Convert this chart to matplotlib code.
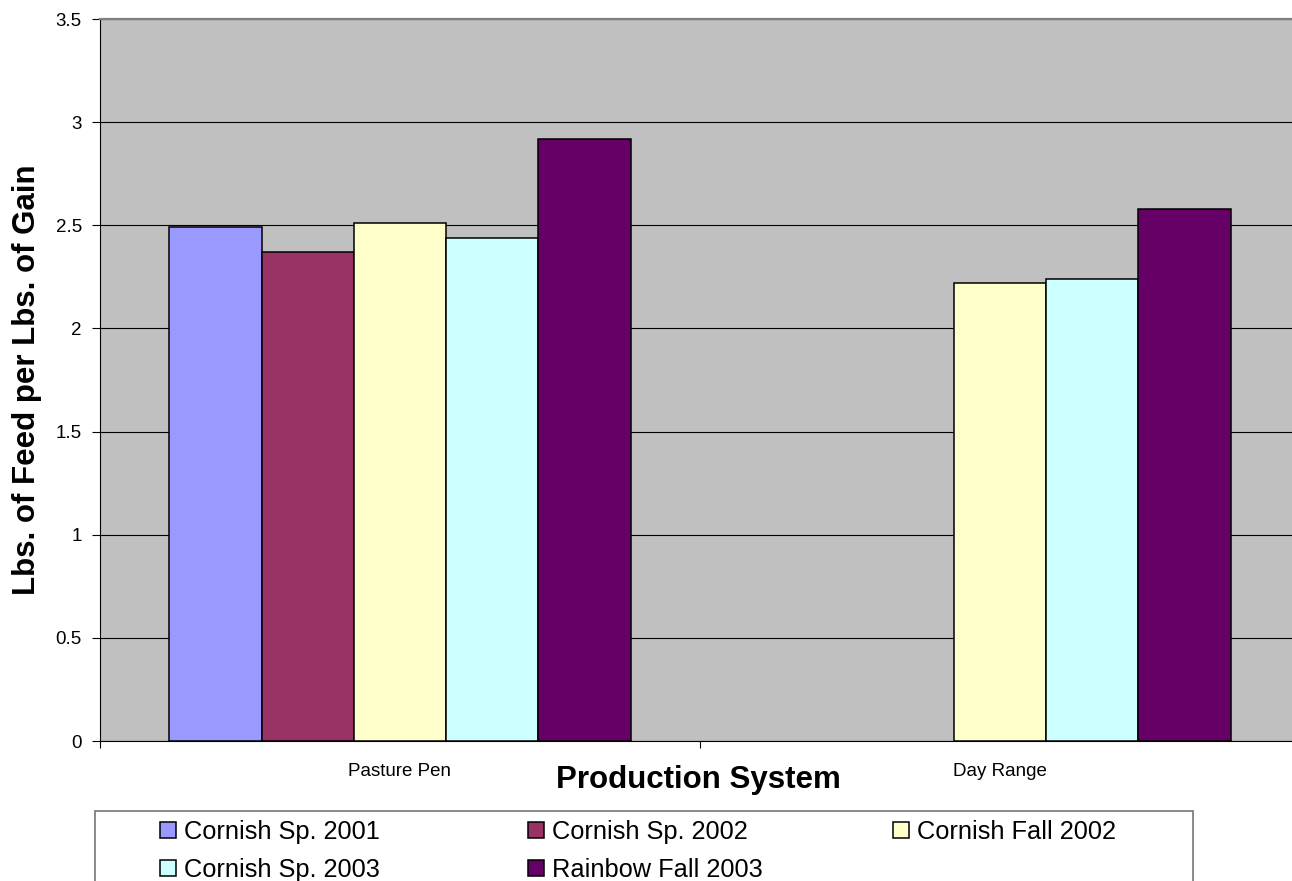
import matplotlib.pyplot as plt
import numpy as np
from matplotlib.patches import Rectangle

plt.rcParams['font.family'] = ['Liberation Sans', 'DejaVu Sans']

systems = ['Pasture Pen', 'Day Range']
series = ['Cornish Sp. 2001', 'Cornish Sp. 2002', 'Cornish Fall 2002',
          'Cornish Sp. 2003', 'Rainbow Fall 2003']
colors = ['#9999FF', '#993366', '#FFFFCC', '#CCFFFF', '#660066']

# feed conversion (lbs feed / lbs gain); no Day Range birds in 2001-2002
sp2001 = [2.49, np.nan]
sp2002 = [2.37, np.nan]
fall2002 = [2.51, 2.22]
sp2003 = [2.44, 2.24]
rainbow2003 = [2.92, 2.58]
values = [sp2001, sp2002, fall2002, sp2003, rainbow2003]

W, H = 1292, 881
fig = plt.figure(figsize=(W / 100, H / 100), dpi=100)
ax = fig.add_axes([100 / W, (H - 741) / H, 1200 / W, 722 / H])
ax.set_facecolor('#C0C0C0')

x = np.arange(len(systems))
width = 1 / 6.5
bars = []
for i, (name, vals, c) in enumerate(zip(series, values, colors)):
    b = ax.bar(x + (i - 2) * width, vals, width, color=c, edgecolor='black',
               linewidth=1.1, label=name, zorder=3)
    bars.append(b)

ax.set_xlim(-0.5, 1.5)
ax.set_ylim(0, 3.5)
ax.set_yticks(np.arange(0, 3.51, 0.5))
ax.set_yticklabels(['{:g}'.format(v) for v in np.arange(0, 3.51, 0.5)], fontsize=13.5)
ax.yaxis.grid(True, color='black', linewidth=0.8, zorder=1)
ax.tick_params(axis='y', length=6, width=0.8, pad=7, direction='out')

# category boundaries as major ticks, names as minor tick labels
ax.set_xticks([-0.5, 0.5, 1.5])
ax.set_xticklabels([])
ax.tick_params(axis='x', which='major', length=5, width=0.8, direction='out')
ax.set_xticks(x, minor=True)
ax.set_xticklabels(systems, minor=True, fontsize=13.5)
ax.tick_params(axis='x', which='minor', length=0, pad=16)

ax.spines['right'].set_visible(False)
ax.spines['top'].set_color('#808080')
ax.spines['top'].set_linewidth(1.6)
ax.spines['left'].set_linewidth(0.8)
ax.spines['bottom'].set_linewidth(0.8)

fig.text(698 / W, 1 - 780 / H, 'Production System', fontsize=22.5,
         fontweight='bold', ha='center', va='center')
fig.text(27 / W, 1 - 380 / H, 'Lbs. of Feed per Lbs. of Gain', fontsize=22.5,
         fontweight='bold', ha='center', va='center', rotation=90)

# legend box with three columns, filled row by row
fig.patches.append(Rectangle((95 / W, -0.05), (1193 - 95) / W, 0.05 + 1 - 811 / H,
                             transform=fig.transFigure, facecolor='white',
                             edgecolor='#808080', linewidth=1.3))
columns = [[0, 3], [1, 4], [2]]
col_x = [160, 528, 893]
for idx, cx in zip(columns, col_x):
    fig.legend([bars[i].patches[0] for i in idx], [series[i] for i in idx],
               loc='upper left', bbox_to_anchor=(cx / W, 1 - 820 / H),
               frameon=False, borderpad=0, borderaxespad=0, fontsize=18.3,
               handlelength=0.62, handleheight=0.62, handletextpad=0.32,
               labelspacing=0.55)

fig.savefig('out.png', dpi=100)
